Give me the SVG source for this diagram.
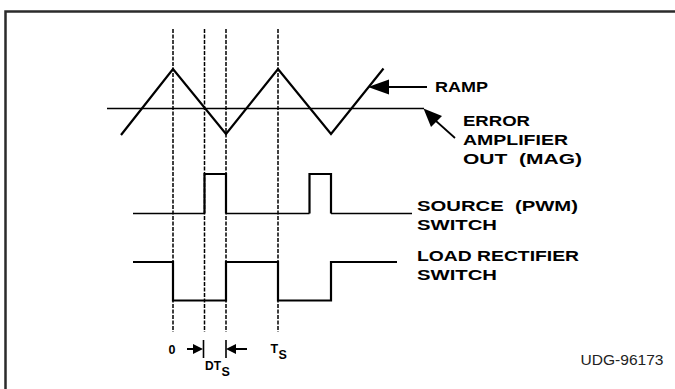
<svg xmlns="http://www.w3.org/2000/svg" width="675" height="389" viewBox="0 0 675 389">
<style>
.lbl{font-family:"Liberation Sans",Arial,sans-serif;font-weight:bold;font-size:14px;fill:#000}
.sm{font-family:"Liberation Sans",Arial,sans-serif;font-weight:bold;font-size:12.5px;fill:#000}
.dot{stroke:#000;stroke-width:1.5;stroke-dasharray:4 1.5;fill:none}
.thick{stroke:#000;stroke-width:2.2;fill:none;stroke-linejoin:miter}
.thin{stroke:#000;stroke-width:1.4;fill:none}
</style>
<rect width="675" height="389" fill="#fff"/>
<g id="frame">
<path d="M5.5 389 V11.5 H675" stroke="#2b2b2b" stroke-width="2.5" fill="none"/>
</g>
<g id="guides">
<line class="dot" x1="173" y1="29" x2="173" y2="332"/>
<line class="dot" x1="204.5" y1="29" x2="204.5" y2="332"/>
<line class="dot" x1="226" y1="29" x2="226" y2="332"/>
<line class="dot" x1="278" y1="29" x2="278" y2="332"/>
</g>
<g id="ramp">
<polyline class="thick" points="121,135 173,69 226,134 278,69 331,134 383.5,68.5"/>
</g>
<g id="error-level">
<line class="thin" x1="107" y1="108.5" x2="424" y2="108.5"/>
</g>
<g id="source-switch">
<polyline class="thin" points="133,213.5 204.5,213.5"/>
<polyline class="thick" points="204.5,213.5 204.5,174 226,174 226,213.5"/>
<polyline class="thin" points="226,213.5 309.5,213.5"/>
<polyline class="thick" points="309.5,213.5 309.5,174 331,174 331,213.5"/>
<polyline class="thin" points="331,213.5 412,213.5"/>
</g>
<g id="load-switch">
<polyline class="thick" points="133,262 173,262 173,300.5 226,300.5 226,262 278,262 278,300.5 331,300.5 331,262 397,262"/>
</g>
<g id="connectors">
<polygon points="368,87 389,79.5 389,94.5" fill="#000"/>
<line x1="387" y1="87" x2="427" y2="87" stroke="#000" stroke-width="2"/>
<polygon points="423.5,108.5 431,127 442,116" fill="#000"/>
<line x1="436" y1="121" x2="455" y2="138" stroke="#000" stroke-width="1.7"/>
<line x1="187" y1="349" x2="196" y2="349" stroke="#000" stroke-width="2"/>
<polygon points="203,349 193,344 193,354" fill="#000"/>
<line x1="203.5" y1="340" x2="203.5" y2="358" stroke="#000" stroke-width="1.6"/>
<line x1="226" y1="340" x2="226" y2="358" stroke="#000" stroke-width="1.6"/>
<polygon points="226,349 236,344 236,354" fill="#000"/>
<line x1="234" y1="349" x2="247" y2="349" stroke="#000" stroke-width="2"/>
</g>
<g id="labels">
<text class="lbl" x="435" y="92" textLength="53" lengthAdjust="spacingAndGlyphs">RAMP</text>
<text class="lbl" x="463" y="125.5" textLength="67" lengthAdjust="spacingAndGlyphs">ERROR</text>
<text class="lbl" x="463" y="144.5" textLength="105" lengthAdjust="spacingAndGlyphs">AMPLIFIER</text>
<text class="lbl" x="463" y="163.5" textLength="119" lengthAdjust="spacingAndGlyphs" xml:space="preserve">OUT  (MAG)</text>
<text class="lbl" x="417" y="211" textLength="161" lengthAdjust="spacingAndGlyphs" xml:space="preserve">SOURCE  (PWM)</text>
<text class="lbl" x="417" y="230" textLength="80" lengthAdjust="spacingAndGlyphs">SWITCH</text>
<text class="lbl" x="417" y="261" textLength="162" lengthAdjust="spacingAndGlyphs">LOAD RECTIFIER</text>
<text class="lbl" x="417" y="280" textLength="80" lengthAdjust="spacingAndGlyphs">SWITCH</text>
<text class="sm" x="168.5" y="353.5">0</text>
<text class="sm" x="205" y="370" textLength="16" lengthAdjust="spacingAndGlyphs">DT</text>
<text class="sm" x="221.5" y="375.5">S</text>
<text class="sm" x="270.5" y="353">T</text>
<text class="sm" x="278.5" y="359">S</text>
<text x="580.5" y="365" font-family="'Liberation Sans',Arial,sans-serif" font-size="15" fill="#222" textLength="83" lengthAdjust="spacingAndGlyphs">UDG-96173</text>
</g>
</svg>
